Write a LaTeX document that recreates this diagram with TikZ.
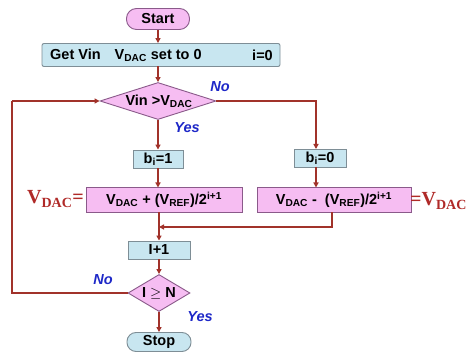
\documentclass[tikz,border=0pt]{standalone}
\usepackage{fontspec}
\setmainfont{Liberation Sans}
\newfontfamily\serifbf{Liberation Serif}
\usetikzlibrary{shapes.geometric,arrows.meta}
\definecolor{pinkfill}{HTML}{F6BDF2}
\definecolor{pinkdraw}{HTML}{8A5A8A}
\definecolor{bluefill}{HTML}{C8E6F0}
\definecolor{bluedraw}{HTML}{7E8E96}
\definecolor{arr}{HTML}{A1322A}
\definecolor{lblblue}{HTML}{1E28C8}
\definecolor{redtxt}{HTML}{B02A28}
\begin{document}
\begin{tikzpicture}[x=1pt,y=-1pt,
  every node/.style={font=\bfseries\fontsize{14.5}{16}\selectfont, inner sep=0pt},
  bluebox/.style={draw=bluedraw, fill=bluefill, line width=0.9pt, rounded corners=2pt},
  pinkbox/.style={draw=pinkdraw, fill=pinkfill, line width=0.9pt},
  pinkdia/.style={draw=pinkdraw, fill=pinkfill, line width=0.9pt, diamond},
  conn/.style={draw=arr, line width=1.5pt, -{Triangle[length=5pt,width=5pt]}},
  line/.style={draw=arr, line width=1.5pt},
  lbl/.style={text=lblblue, font=\bfseries\itshape\fontsize{14.5}{16}\selectfont},
  vlbl/.style={text=redtxt, font=\serifbf\bfseries\fontsize{20}{22}\selectfont}
]
\useasboundingbox (0,0) rectangle (467,352);
\fill[white] (0,0) rectangle (467,352);

\node[draw=pinkdraw, fill=pinkfill, line width=0.9pt, rounded corners=10pt,
      minimum width=63pt, minimum height=21pt] (start) at (158,19) {Start};
\node[bluebox, minimum width=238pt, minimum height=23pt] (get) at (161,55) {};
\node[anchor=west] (gettxt) at (50,55) {Get Vin\hspace{14pt}V\textsubscript{DAC} set to 0};
\node[anchor=east] (i0) at (273,55) {i=0};

\node[pinkdia, minimum width=116pt, minimum height=37pt] (d1) at (158,101) {};
\node (d1txt) at (159,101) {Vin >V\textsubscript{DAC}};

\node[bluebox, rounded corners=0pt, minimum width=50pt, minimum height=18pt] (b1) at (158,159) {b\textsubscript{i}=1};
\node[bluebox, rounded corners=0pt, minimum width=52pt, minimum height=18pt] (b0) at (320,158) {b\textsubscript{i}=0};

\node[pinkbox, minimum width=156pt, minimum height=25pt] (add) at (164,200)
  {V\textsubscript{DAC} + (V\textsubscript{REF})/2\textsuperscript{i+1}};
\node[pinkbox, minimum width=154pt, minimum height=25pt] (sub) at (334,200)
  {V\textsubscript{DAC} - \ (V\textsubscript{REF})/2\textsuperscript{i+1}};

\node[vlbl, anchor=east] (vl) at (84,199) {V\textsubscript{DAC}=};
\node[vlbl, anchor=west] (vr) at (410,201) {=V\textsubscript{DAC}};

\node[bluebox, rounded corners=0pt, minimum width=62pt, minimum height=18pt] (inc) at (159,250) {I+1};
\node[pinkdia, minimum width=62pt, minimum height=37pt] (d2) at (159,293) {};
\node (d2txt) at (159,293) {I $\geq$ N};

\node[bluebox, rounded corners=9pt, minimum width=64pt, minimum height=19pt] (stop) at (159,342) {Stop};

\node[lbl] (no1) at (220,87) {No};
\node[lbl] (yes1) at (187,128) {Yes};
\node[lbl] (no2) at (103,280) {No};
\node[lbl] (yes2) at (200,317) {Yes};

\coordinate (lefttop) at (12,101);
\coordinate (leftbot) at (12,293);
\coordinate (join) at (159,227);

\draw[conn] (start.south) -- (start.south |- get.north);
\draw[conn] (158,66.5) -- (d1.north);
\draw[conn] (d1.south) -- (b1.north);
\draw[conn] (d1.east) -- (316,101) -- (316,149);
\draw[conn] (b1.south) -- (158,187.5);
\draw[conn] (316,167) -- (316,187.5);
\draw[conn] (159,212.5) -- (inc.north);
\draw[conn] (332,212.5) -- (332,227) -- (join);
\draw[conn] (inc.south) -- (d2.north);
\draw[conn] (d2.south) -- (stop.north);
\draw[line] (d2.west) -- (leftbot) -- (lefttop);
\draw[conn] (lefttop) -- (d1.west);
\end{tikzpicture}
\end{document}
